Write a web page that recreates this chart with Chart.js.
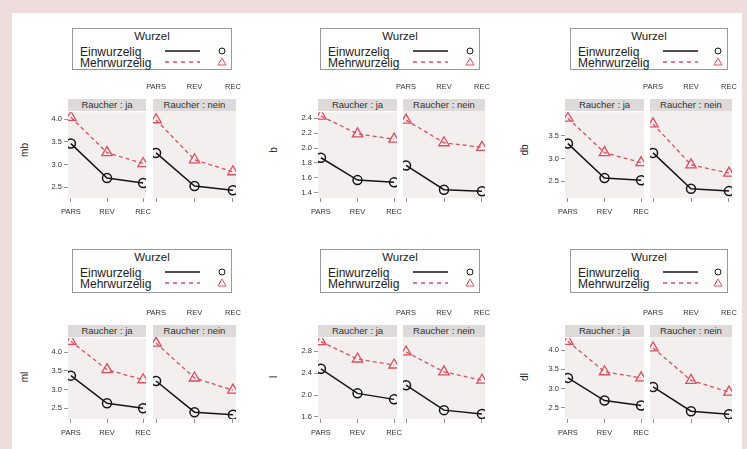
<!DOCTYPE html>
<html>
<head>
<meta charset="utf-8">
<script src="https://cdn.jsdelivr.net/npm/chart.js@4.4.1/dist/chart.umd.min.js"></script>
<style>
body { margin: 0; width: 747px; height: 449px; overflow: hidden; background: #efdddd; font-family: "Liberation Sans", Arial, sans-serif; position: relative; }
#page { position: absolute; left: 12px; top: 13px; width: 730px; height: 436px; background: #fff; }
canvas { position: absolute; }
.strip { position: absolute; background: #dedada; color: #333; font-size: 9.5px; line-height: 12px; text-align: center; white-space: nowrap; overflow: hidden; }
.legend { position: absolute; border: 1px solid #999; background: #fff; box-sizing: border-box; color: #222; }
.legend .lt { position: absolute; left: 0; right: 0; top: 1px; text-align: center; font-size: 11.5px; line-height: 12px; }
.legend .lr { position: absolute; left: 7px; font-size: 12px; line-height: 12px; white-space: nowrap; }
.ytitle { position: absolute; font-size: 10px; color: #222; transform: translate(-50%, -50%) rotate(-90deg); white-space: nowrap; }
</style>
</head>
<body>
<div id="page"></div>
<script>
const categories = ["PARS", "REV", "REC"];
const facets = ["Raucher : ja", "Raucher : nein"];
const legendTitle = "Wurzel";
const seriesNames = ["Einwurzelig", "Mehrwurzelig"];
const yTitles = ["mb", "b", "db", "ml", "l", "dl"];

// values: [PARS, REV, REC]
const mbEinJa = [3.46, 2.70, 2.59];
const mbMehrJa = [4.04, 3.26, 3.02];
const mbEinNein = [3.24, 2.52, 2.43];
const mbMehrNein = [3.96, 3.09, 2.83];

const bEinJa = [1.87, 1.57, 1.54];
const bMehrJa = [2.43, 2.19, 2.12];
const bEinNein = [1.76, 1.44, 1.42];
const bMehrNein = [2.36, 2.06, 2.00];

const dbEinJa = [3.33, 2.57, 2.52];
const dbMehrJa = [3.89, 3.13, 2.91];
const dbEinNein = [3.11, 2.33, 2.28];
const dbMehrNein = [3.74, 2.85, 2.67];

const mlEinJa = [3.37, 2.63, 2.50];
const mlMehrJa = [4.29, 3.53, 3.26];
const mlEinNein = [3.21, 2.39, 2.32];
const mlMehrNein = [4.21, 3.29, 2.97];

const lEinJa = [2.48, 2.03, 1.92];
const lMehrJa = [2.98, 2.66, 2.55];
const lEinNein = [2.17, 1.72, 1.65];
const lMehrNein = [2.77, 2.41, 2.26];

const dlEinJa = [3.28, 2.69, 2.56];
const dlMehrJa = [4.23, 3.44, 3.28];
const dlEinNein = [3.03, 2.41, 2.33];
const dlMehrNein = [4.03, 3.20, 2.90];

// y tick labels and axis ranges
const mbTicks = [2.5, 3.0, 3.5, 4.0];
const bTicks = [1.4, 1.6, 1.8, 2.0, 2.2, 2.4];
const dbTicks = [2.5, 3.0, 3.5];
const mlTicks = [2.5, 3.0, 3.5, 4.0];
const lTicks = [1.6, 1.8, 2.0, 2.2, 2.4, 2.6, 2.8, 3.0];
const dlTicks = [2.5, 3.0, 3.5, 4.0];
const mbRange = [2.26, 4.15];
const bRange = [1.33, 2.48];
const dbRange = [2.13, 4.02];
const mlRange = [2.21, 4.37];
const lRange = [1.56, 3.04];
const dlRange = [2.21, 4.31];

const panels = [
    {ein: [mbEinJa, mbEinNein], mehr: [mbMehrJa, mbMehrNein], ticks: mbTicks, range: mbRange},
    {ein: [bEinJa, bEinNein], mehr: [bMehrJa, bMehrNein], ticks: bTicks, range: bRange},
    {ein: [dbEinJa, dbEinNein], mehr: [dbMehrJa, dbMehrNein], ticks: dbTicks, range: dbRange},
    {ein: [mlEinJa, mlEinNein], mehr: [mlMehrJa, mlMehrNein], ticks: mlTicks, range: mlRange},
    {ein: [lEinJa, lEinNein], mehr: [lMehrJa, lMehrNein], ticks: lTicks, range: lRange},
    {ein: [dlEinJa, dlEinNein], mehr: [dlMehrJa, dlMehrNein], ticks: dlTicks, range: dlRange}
];

// page layout (pixels)
const cols = [
    {left: [68, 153], width: [78, 83], legL: 72, legW: 160, titleX: 24},
    {left: [318, 403], width: [79, 82], legL: 320, legW: 160, titleX: 273},
    {left: [565, 650], width: [79, 82], legL: 570, legW: 158, titleX: 524}
];
const rows = [
    {top: 111, h: 87, legT: 28, legH: 42, titleY: 150},
    {top: 337, h: 82, legT: 249, legH: 44, titleY: 377}
];

const RED = "#dc4f5f";
const BLACK = "#151515";
const tickFont = {family: "'Liberation Sans', Arial, sans-serif", size: 7.5};

const panelBg = {
    id: "panelBg",
    beforeDraw(chart) {
        const {ctx, chartArea: a} = chart;
        ctx.save();
        ctx.fillStyle = "#f3efef";
        ctx.fillRect(a.left, a.top, a.right - a.left, a.bottom - a.top);
        ctx.restore();
    }
};

function addDiv(cls, style, html) {
    const d = document.createElement("div");
    d.className = cls;
    Object.assign(d.style, style);
    d.innerHTML = html;
    document.body.appendChild(d);
    return d;
}

function addLegend(x, y, w, h) {
    const mx = w - 10;
    const y1 = 23, y2 = 34;
    addDiv("legend", {left: x + "px", top: y + "px", width: w + "px", height: h + "px"},
        `<div class="lt">${legendTitle}</div>
         <div class="lr" style="top:${y1 - 6}px">${seriesNames[0]}</div>
         <div class="lr" style="top:${y2 - 6}px">${seriesNames[1]}</div>
         <svg width="${w}" height="${h}" style="position:absolute;left:-1px;top:-1px">
           <line x1="93" y1="${y1}" x2="128" y2="${y1}" stroke="${BLACK}" stroke-width="1.5"/>
           <line x1="93" y1="${y2}" x2="128" y2="${y2}" stroke="${RED}" stroke-width="1.3" stroke-dasharray="4 4"/>
           <circle cx="${mx}" cy="${y1}" r="3" fill="none" stroke="${BLACK}"/>
           <path d="M${mx} ${y2 - 4} L${mx + 4} ${y2 + 3} L${mx - 4} ${y2 + 3}Z" fill="none" stroke="${RED}"/>
         </svg>`);
}

function tickScale(ticks) {
    return (s) => { s.ticks = ticks.map((v) => ({value: v})); };
}

// fixed axis sizes, and no extra room for labels hanging over the ends
function fixSize(w, h) {
    return (s) => {
        if (w !== null) s.width = w;
        if (h !== null) s.height = h;
        s.paddingLeft = 0; s.paddingRight = 0; s.paddingTop = 0; s.paddingBottom = 0;
    };
}

function makeFacet(p, f, c, r) {
    const left = c.left[f], w = c.width[f];
    const cv = document.createElement("canvas");
    let cl, ct, cw, ch, padding;
    if (f === 0) {
        cl = left - 30; ct = r.top - 6; cw = 30 + w + 8; ch = 6 + r.h + 22;
        padding = {left: 0, right: 8, top: 6, bottom: 0};
    } else {
        cl = left - 8; ct = r.top - 32; cw = 8 + w + 8; ch = 32 + r.h + 8;
        padding = {left: 8, right: 8, top: 0, bottom: 0};
    }
    cv.width = cw; cv.height = ch;
    cv.style.left = cl + "px"; cv.style.top = ct + "px";
    document.body.appendChild(cv);

    const grid = {drawOnChartArea: false, tickLength: 4, color: "#777", lineWidth: 0.8};
    const scales = {
        x: {
            type: "linear", position: "bottom", min: -0.08, max: 2.08,
            afterBuildTicks: tickScale([0, 1, 2]),
            ticks: {display: f === 0, callback: (v) => categories[v], font: tickFont, color: "#333", padding: 5, maxRotation: 0, autoSkip: false},
            grid: grid, border: {display: false},
            afterFit: fixSize(null, f === 0 ? 22 : 8)
        },
        y: {
            display: f === 0, min: p.range[0], max: p.range[1],
            afterBuildTicks: tickScale(p.ticks),
            ticks: {callback: (v) => v.toFixed(1), font: tickFont, color: "#333", padding: 2},
            grid: grid, border: {display: false},
            afterFit: fixSize(f === 0 ? 30 : 0, null)
        }
    };
    if (f === 1) {
        scales.x2 = {
            type: "linear", position: "top", min: -0.08, max: 2.08,
            afterBuildTicks: tickScale([0, 1, 2]),
            ticks: {callback: (v) => categories[v], font: tickFont, color: "#333", padding: 20, maxRotation: 0, autoSkip: false},
            grid: {display: false, drawTicks: false}, border: {display: false},
            afterFit: fixSize(null, 32)
        };
    }

    new Chart(cv, {
        type: "line",
        data: {
            datasets: [
                {
                    label: seriesNames[0],
                    data: p.ein[f].map((v, i) => ({x: i, y: v})),
                    borderColor: BLACK, borderWidth: 1.5,
                    pointStyle: "circle", pointRadius: 4.5, pointBorderWidth: 1.5,
                    pointBorderColor: BLACK, pointBackgroundColor: "rgba(0,0,0,0)"
                },
                {
                    label: seriesNames[1],
                    data: p.mehr[f].map((v, i) => ({x: i, y: v})),
                    borderColor: RED, borderWidth: 1.3, borderDash: [4, 3],
                    pointStyle: "triangle", pointRadius: 6, pointBorderWidth: 1.3,
                    pointBorderColor: RED, pointBackgroundColor: "rgba(0,0,0,0)"
                }
            ]
        },
        options: {
            responsive: false,
            animation: false,
            layout: {padding: padding},
            plugins: {legend: {display: false}, tooltip: {enabled: false}},
            scales: scales
        },
        plugins: [panelBg]
    });

    addDiv("strip", {left: left + "px", top: (r.top - 12) + "px", width: w + "px", height: "12px"}, facets[f]);
}

panels.forEach((p, k) => {
    const c = cols[k % 3], r = rows[Math.floor(k / 3)];
    addLegend(c.legL, r.legT, c.legW, r.legH);
    makeFacet(p, 0, c, r);
    makeFacet(p, 1, c, r);
    addDiv("ytitle", {left: c.titleX + "px", top: r.titleY + "px"}, yTitles[k]);
});
</script>
</body>
</html>
